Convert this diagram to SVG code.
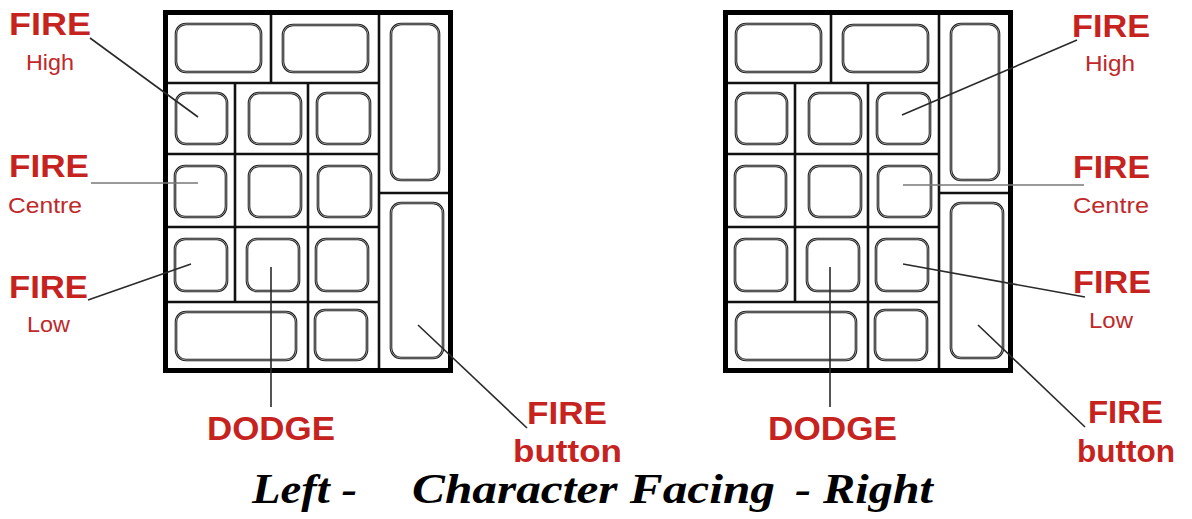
<svg xmlns="http://www.w3.org/2000/svg" xmlns:xlink="http://www.w3.org/1999/xlink" width="1192" height="519" viewBox="0 0 1192 519">
<style>
.frame{fill:none;stroke:#000;stroke-width:5}
.grid{stroke:#111;stroke-width:2.6;fill:none}
.key{fill:#fff;stroke:#1a1a1a;stroke-width:2.6}
.keyin{fill:none;stroke:#c8c8c8;stroke-width:0.7}
.conn{stroke:#2a2a2a;stroke-width:1.6;fill:none}
.connl{stroke:#777;stroke-width:1.4;fill:none}
.big{font-family:"Liberation Sans",Arial,sans-serif;font-weight:bold;font-size:32px;fill:#c62320}
.small{font-family:"Liberation Sans",Arial,sans-serif;font-size:22px;fill:#c0282a}
.title{font-family:"Liberation Serif","Times New Roman",serif;font-weight:bold;font-style:italic;font-size:42px;fill:#000}
</style>
<defs>
<g id="keypad">
<rect x="0" y="0" width="1192" height="1" fill="none"/>
<g class="grid">
<line x1="165" y1="83" x2="379" y2="83"/>
<line x1="165" y1="154" x2="379" y2="154"/>
<line x1="165" y1="227" x2="379" y2="227"/>
<line x1="165" y1="302" x2="379" y2="302"/>
<line x1="271" y1="13" x2="271" y2="83"/>
<line x1="379" y1="13" x2="379" y2="371"/>
<line x1="235" y1="83" x2="235" y2="302"/>
<line x1="308" y1="83" x2="308" y2="371"/>
<line x1="379" y1="193" x2="451" y2="193"/>
</g>
<g id="keys">
<rect class="key" x="176" y="24" width="85" height="48" rx="10"/>
<rect class="key" x="283" y="25" width="85" height="47" rx="10"/>
<rect class="key" x="391" y="24" width="48" height="156" rx="10"/>
<rect class="key" x="391" y="203" width="52" height="155" rx="10"/>
<rect class="key" x="176" y="93" width="51" height="51" rx="10"/>
<rect class="key" x="249" y="93" width="52" height="51" rx="10"/>
<rect class="key" x="317" y="93" width="53" height="51" rx="10"/>
<rect class="key" x="175" y="166" width="51" height="51" rx="10"/>
<rect class="key" x="249" y="166" width="52" height="51" rx="10"/>
<rect class="key" x="318" y="166" width="53" height="51" rx="10"/>
<rect class="key" x="175" y="239" width="52" height="52" rx="10"/>
<rect class="key" x="247" y="239" width="52" height="52" rx="10"/>
<rect class="key" x="316" y="239" width="52" height="52" rx="10"/>
<rect class="key" x="176" y="312" width="120" height="48" rx="10"/>
<rect class="key" x="315" y="310" width="52" height="50" rx="10"/>
</g>
<g>
<rect class="keyin" x="176" y="24" width="85" height="48" rx="10"/>
<rect class="keyin" x="283" y="25" width="85" height="47" rx="10"/>
<rect class="keyin" x="391" y="24" width="48" height="156" rx="10"/>
<rect class="keyin" x="391" y="203" width="52" height="155" rx="10"/>
<rect class="keyin" x="176" y="93" width="51" height="51" rx="10"/>
<rect class="keyin" x="249" y="93" width="52" height="51" rx="10"/>
<rect class="keyin" x="317" y="93" width="53" height="51" rx="10"/>
<rect class="keyin" x="175" y="166" width="51" height="51" rx="10"/>
<rect class="keyin" x="249" y="166" width="52" height="51" rx="10"/>
<rect class="keyin" x="318" y="166" width="53" height="51" rx="10"/>
<rect class="keyin" x="175" y="239" width="52" height="52" rx="10"/>
<rect class="keyin" x="247" y="239" width="52" height="52" rx="10"/>
<rect class="keyin" x="316" y="239" width="52" height="52" rx="10"/>
<rect class="keyin" x="176" y="312" width="120" height="48" rx="10"/>
<rect class="keyin" x="315" y="310" width="52" height="50" rx="10"/>
</g>
<rect class="frame" x="165.5" y="12.5" width="285" height="358"/>
</g>
</defs>
<rect x="0" y="0" width="1192" height="519" fill="#fff"/>
<g id="keypad-left"><use xlink:href="#keypad" href="#keypad"/></g>
<g id="keypad-right"><use xlink:href="#keypad" href="#keypad" x="560"/></g>
<g id="connectors">
<line class="conn" x1="90" y1="38" x2="198" y2="117"/>
<line class="connl" x1="91" y1="183" x2="198" y2="183"/>
<line class="conn" x1="88" y1="300" x2="191" y2="264"/>
<line class="conn" x1="271" y1="267" x2="271" y2="407"/>
<line class="conn" x1="418" y1="325" x2="527" y2="428"/>
<line class="conn" x1="1077" y1="40" x2="902" y2="115"/>
<line class="connl" x1="1084" y1="185" x2="903" y2="185"/>
<line class="conn" x1="1085" y1="297" x2="903" y2="264"/>
<line class="conn" x1="830" y1="267" x2="830" y2="407"/>
<line class="conn" x1="978" y1="325" x2="1085" y2="427"/>
</g>
<g id="label-left-high"><text class="big" x="9" y="35" textLength="82" lengthAdjust="spacingAndGlyphs">FIRE</text><text class="small" x="26" y="70" textLength="48" lengthAdjust="spacingAndGlyphs">High</text></g>
<g id="label-left-centre"><text class="big" x="9" y="177" textLength="80" lengthAdjust="spacingAndGlyphs">FIRE</text><text class="small" x="8" y="213" textLength="74" lengthAdjust="spacingAndGlyphs">Centre</text></g>
<g id="label-left-low"><text class="big" x="9" y="298" textLength="79" lengthAdjust="spacingAndGlyphs">FIRE</text><text class="small" x="27" y="332" textLength="43" lengthAdjust="spacingAndGlyphs">Low</text></g>
<g id="label-left-dodge"><text class="big" x="207" y="440" font-size="34" style="font-size:34px" textLength="128" lengthAdjust="spacingAndGlyphs">DODGE</text></g>
<g id="label-left-button"><text class="big" x="527" y="424" textLength="80" lengthAdjust="spacingAndGlyphs">FIRE</text><text class="big" x="513" y="462" textLength="109" lengthAdjust="spacingAndGlyphs">button</text></g>
<g id="label-right-high"><text class="big" x="1072" y="37" textLength="78" lengthAdjust="spacingAndGlyphs">FIRE</text><text class="small" x="1085" y="71" textLength="50" lengthAdjust="spacingAndGlyphs">High</text></g>
<g id="label-right-centre"><text class="big" x="1073" y="178" textLength="77" lengthAdjust="spacingAndGlyphs">FIRE</text><text class="small" x="1073" y="213" textLength="76" lengthAdjust="spacingAndGlyphs">Centre</text></g>
<g id="label-right-low"><text class="big" x="1073" y="293" textLength="78" lengthAdjust="spacingAndGlyphs">FIRE</text><text class="small" x="1089" y="328" textLength="44" lengthAdjust="spacingAndGlyphs">Low</text></g>
<g id="label-right-dodge"><text class="big" x="768" y="440" style="font-size:34px" textLength="129" lengthAdjust="spacingAndGlyphs">DODGE</text></g>
<g id="label-right-button"><text class="big" x="1088" y="423" textLength="75" lengthAdjust="spacingAndGlyphs">FIRE</text><text class="big" x="1077" y="462" textLength="98" lengthAdjust="spacingAndGlyphs">button</text></g>
<g id="caption">
<text class="title" x="252" y="503" textLength="105" lengthAdjust="spacingAndGlyphs">Left -</text>
<text class="title" x="412" y="503" textLength="363" lengthAdjust="spacingAndGlyphs">Character Facing</text>
<text class="title" x="795" y="503" textLength="138" lengthAdjust="spacingAndGlyphs">- Right</text>
</g>
</svg>
